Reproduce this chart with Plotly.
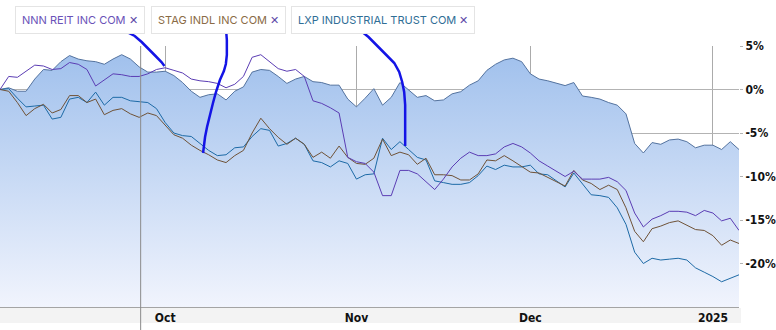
import plotly.graph_objects as go

# ---- data (percent change) ----
area_vals = [0, 0.2, -0.2, -0.2, 1.2, 2.3, 2.2, 3.2, 3.9, 3.5,
             3.3, 3.2, 2.9, 3.5, 4.0, 3.5, 2.6, 2.0, 2.0, 2.1,
             1.6, 0.8, -0.2, -0.9, -0.6, -0.5, -1.2, -0.2, 0.3, 2.0,
             2.3, 2.2, 1.5, 0.7, 1.2, 1.5, 0.9, 0.8, 0.5, 0.5,
             -1.1, -2.0, -1.0, 0.1, -1.8, -0.9, 0.8, 0.0, -0.9, -0.7,
             -1.3, -1.2, -0.5, -0.25, 0.5, 1.0, 2.2, 2.9, 3.4, 3.6,
             3.2, 1.8, 1.2, 1.0, 0.7, 0.45, 0.8, -0.75, -0.9, -1.1,
             -1.5, -1.8, -2.8, -6.2, -7.3, -6.1, -6.3, -5.8, -5.7, -6.0,
             -6.7, -6.4, -6.4, -6.9, -6.0, -6.9]
nnn = [0, 1.5, 1.4, 2.1, 2.8, 2.7, 2.3, 2.4, 3.1, 2.9,
       2.3, 0.4, 1.1, 1.8, 1.7, 1.5, 1.5, 1.8, 2.3, 2.5,
       2.2, 1.9, 1.2, 1.0, 0.9, 0.7, 0.2, 0.6, 1.5, 3.7,
       4.0, 3.2, 2.4, 2.1, 2.3, 1.5, -1.3, -1.6, -2.1, -2.7,
       -7.8, -8.3, -8.5, -9.5, -12.2, -12.2, -9.3, -9.3, -9.7, -10.6,
       -11.5, -10.3, -8.9, -7.9, -7.2, -7.6, -7.6, -7.4, -6.6, -6.2,
       -6.6, -7.3, -8.2, -8.8, -9.4, -10.0, -9.4, -10.3, -10.3, -10.3,
       -10.1, -10.6, -11.6, -14.2, -15.8, -14.9, -14.5, -14.0, -14.0, -14.1,
       -14.5, -13.9, -14.2, -15.1, -14.8, -16.2]
stag = [0, -0.2, -1.5, -3.0, -2.2, -1.7, -2.7, -2.3, -0.7, -0.7,
        -1.5, -1.1, -2.9, -2.4, -2.2, -2.8, -3.2, -2.7, -3.0, -4.1,
        -5.2, -5.6, -6.4, -7.0, -7.5, -8.1, -8.4, -7.6, -7.0, -5.0,
        -3.3, -4.5, -5.5, -6.3, -5.6, -6.3, -7.8, -7.2, -7.9, -6.5,
        -7.8, -8.5, -8.6, -7.9, -5.7, -7.6, -7.2, -7.5, -8.6, -7.9,
        -9.8, -9.8, -9.9, -10.4, -10.4, -9.7, -8.1, -8.2, -7.6, -8.2,
        -8.9, -9.5, -9.6, -10.1, -10.6, -11.1, -9.3, -10.4, -10.8, -11.5,
        -11.0, -11.5, -13.6, -16.3, -17.5, -16.0, -15.7, -15.3, -15.1, -15.6,
        -16.1, -16.2, -16.8, -17.9, -17.3, -17.7]
lxp = [0, 0.1, -1.0, -2.0, -1.9, -1.8, -3.4, -3.2, -1.1, -0.9,
       -1.5, -0.3, -1.8, -0.9, -0.9, -1.3, -1.4, -1.5, -2.2, -3.8,
       -5.0, -5.3, -5.4, -6.2, -7.0, -7.6, -7.5, -6.7, -6.6, -5.4,
       -4.5, -4.7, -6.5, -6.2, -5.6, -6.3, -8.2, -8.4, -8.9, -8.2,
       -8.5, -10.3, -9.8, -9.7, -5.6, -6.9, -6.0, -6.9, -7.8, -8.1,
       -10.5, -10.7, -10.9, -10.9, -10.7, -9.9, -8.8, -9.2, -8.7, -8.9,
       -8.9, -8.7, -9.7, -9.8, -10.5, -11.2, -9.6, -10.9, -12.1, -12.2,
       -12.4, -13.6, -15.5, -18.7, -20.0, -19.4, -19.6, -19.5, -19.4, -19.6,
       -20.5, -21.0, -21.5, -22.1, -21.7, -21.3]

series_names = ["NNN REIT INC COM", "STAG INDL INC COM", "LXP INDUSTRIAL TRUST COM"]
tick_idx = [19, 41, 61, 82]          # first trading day of each month
tick_text = ["Oct", "Nov", "Dec", "2025"]
y_tickvals = [5, 0, -5, -10, -15, -20]
y_ticktext = ["5%", "0%", "-5%", "-10%", "-15%", "-20%"]
Y_MIN, Y_MAX = -25, 5

x = list(range(len(area_vals)))

# ---- layout geometry helpers (pixels -> paper) ----
W, H = 776, 330
ML, MR, MT, MB = 0, 30, 46, 23
PW, PH = W - ML - MR, H - MT - MB


def px(v):
    return (v - ML) / PW


def py(v):
    return (H - MB - v) / PH


AX_FONT = dict(family="Liberation Sans Narrow, DejaVu Sans Condensed, Arial Narrow, sans-serif",
               size=12, color="#111111", weight="bold")

fig = go.Figure()
fig.add_trace(go.Scatter(x=x, y=[Y_MIN] * len(x), mode="lines", line=dict(width=0),
                         hoverinfo="skip", showlegend=False))
fig.add_trace(go.Scatter(x=x, y=area_vals, mode="lines", fill="tonexty",
                         line=dict(color="#54739f", width=1),
                         fillgradient=dict(type="vertical",
                                           colorscale=[[0, "#f1f4fd"], [1, "#9ebfec"]],
                                           start=Y_MIN, stop=Y_MAX),
                         showlegend=False))
line_colors = ["#5b3db4", "#6f5237", "#1d6aa6"]
for name, vals, col in [(series_names[2], lxp, line_colors[2]),
                        (series_names[1], stag, line_colors[1]),
                        (series_names[0], nnn, line_colors[0])]:
    fig.add_trace(go.Scatter(x=x, y=vals, mode="lines", name=name,
                             line=dict(color=col, width=1), showlegend=False))

shapes = []
# x-axis label band
shapes.append(dict(type="rect", xref="paper", yref="paper", x0=0, x1=px(748),
                   y0=py(323), y1=py(308), fillcolor="#f3f3f3", line=dict(width=0), layer="below"))
# hover crosshair
shapes.append(dict(type="line", xref="paper", yref="paper", x0=px(142), x1=px(142),
                   y0=py(330), y1=1, line=dict(color="#8a8a8a", width=1)))

# hand-drawn pen strokes (pixel coordinates of the overlay)
strokes = [
    [(120, 30), (128, 32), (136, 36), (143, 42), (150, 49), (157, 56), (163, 62), (166, 66)],
    [(228, 27), (229, 40), (229, 55), (228, 64), (226, 71), (222, 80), (218, 92), (215, 103),
     (212, 115), (209, 127), (207, 137), (206, 145), (205, 153)],
    [(362, 29), (372, 37), (381, 46), (390, 55), (398, 63), (403, 72), (406, 82), (408, 92),
     (409, 105), (409, 125), (409, 146)],
]
for s in strokes:
    path = "M " + " L ".join(f"{px(a):.5f},{py(b):.5f}" for a, b in s)
    shapes.append(dict(type="path", xref="paper", yref="paper", path=path,
                       line=dict(color="#1414e6", width=2.5)))

# legend chips
legend_colors = ["#6a52b8", "#8a6b45", "#2f6e96"]
legend_x = [15, 152, 294]
annotations = []
for name, col, lx in zip(series_names, legend_colors, legend_x):
    annotations.append(dict(
        xref="paper", yref="paper", x=px(lx), y=py(20), xanchor="left", yanchor="middle",
        text=f"<span style='color:{col}'>{name}</span> <span style='color:#5b48a8'>✕</span>",
        showarrow=False, font=dict(family="Inter, Roboto, sans-serif", size=11),
        bordercolor="#e4e4e4", borderwidth=1, borderpad=6, bgcolor="#ffffff"))

fig.update_layout(
    width=W, height=H, margin=dict(l=ML, r=MR, t=MT, b=MB),
    paper_bgcolor="#ffffff", plot_bgcolor="#ffffff",
    showlegend=False, shapes=shapes, annotations=annotations,
    xaxis=dict(range=[0, len(x) - 1], tickmode="array", tickvals=tick_idx, ticktext=tick_text,
               showgrid=True, gridcolor="#ababab", gridwidth=1, zeroline=False,
               showline=True, linecolor="#a4a4a4", ticks="", tickfont=AX_FONT, fixedrange=True),
    yaxis=dict(range=[Y_MIN, Y_MAX], side="right", tickmode="array", tickvals=y_tickvals,
               ticktext=y_ticktext, showgrid=True, gridcolor="#b3b3b3", gridwidth=1,
               zeroline=False, ticks="outside", ticklen=3, tickcolor="#b3b3b3",
               tickfont=AX_FONT, fixedrange=True),
)

fig.write_html("out.html")
